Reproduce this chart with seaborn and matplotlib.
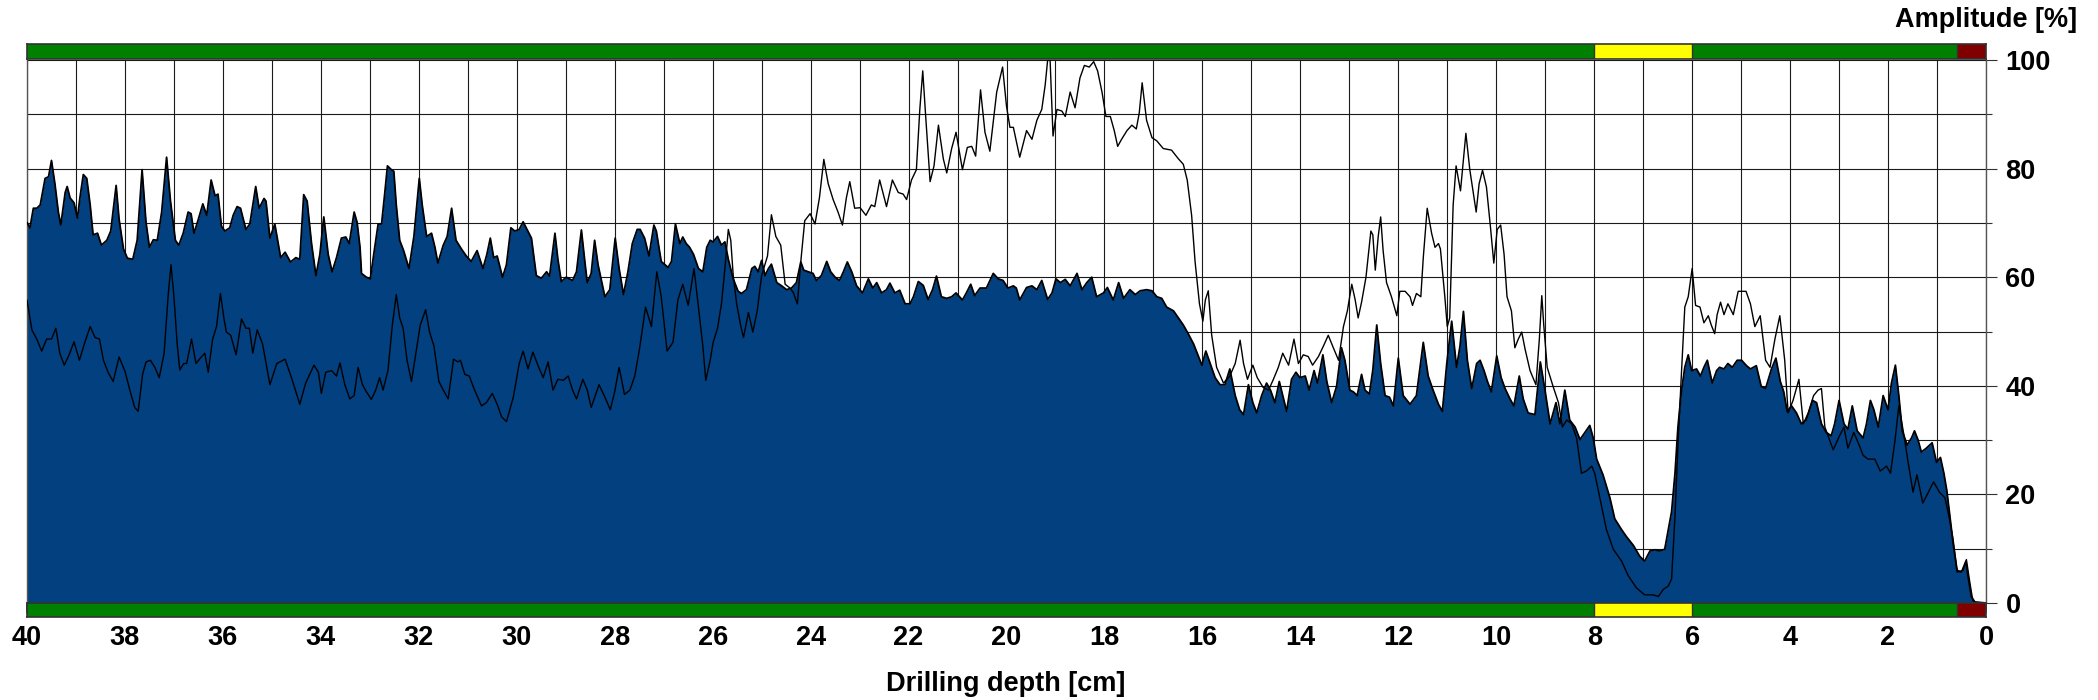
import matplotlib
matplotlib.use("Agg")
import matplotlib.pyplot as plt
import pandas as pd
import seaborn as sns

# Envelope amplitude (filled area) along the drilling depth
depth_a = [40.00, 39.94, 39.87, 39.80, 39.73, 39.63, 39.56, 39.50, 39.43, 39.36, 39.31, 39.22, 39.18, 39.12,
           39.04, 38.97, 38.92, 38.85, 38.78, 38.71, 38.65, 38.56, 38.48, 38.37, 38.29, 38.18, 38.12, 38.03,
           37.95, 37.84, 37.75, 37.65, 37.57, 37.50, 37.42, 37.34, 37.25, 37.15, 37.07, 36.97, 36.90, 36.81,
           36.71, 36.65, 36.59, 36.50, 36.41, 36.33, 36.24, 36.16, 36.10, 36.03, 35.96, 35.86, 35.79, 35.71,
           35.64, 35.53, 35.45, 35.33, 35.26, 35.16, 35.12, 35.04, 34.94, 34.82, 34.73, 34.62, 34.51, 34.43,
           34.35, 34.28, 34.19, 34.10, 34.02, 33.94, 33.85, 33.77, 33.68, 33.58, 33.49, 33.42, 33.32, 33.26,
           33.20, 33.17, 33.07, 32.99, 32.92, 32.83, 32.76, 32.69, 32.64, 32.56, 32.51, 32.46, 32.39, 32.31,
           32.20, 32.10, 31.99, 31.93, 31.84, 31.74, 31.67, 31.61, 31.50, 31.42, 31.33, 31.24, 31.13, 31.03,
           30.93, 30.81, 30.69, 30.61, 30.54, 30.47, 30.40, 30.29, 30.21, 30.12, 30.04, 29.95, 29.87, 29.79,
           29.70, 29.60, 29.50, 29.39, 29.33, 29.22, 29.16, 29.09, 28.99, 28.86, 28.78, 28.68, 28.61, 28.56,
           28.48, 28.41, 28.34, 28.20, 28.10, 27.99, 27.91, 27.82, 27.73, 27.64, 27.54, 27.48, 27.39, 27.30,
           27.20, 27.15, 27.05, 26.91, 26.84, 26.76, 26.67, 26.61, 26.54, 26.47, 26.39, 26.29, 26.20, 26.12,
           26.05, 25.99, 25.90, 25.82, 25.75, 25.68, 25.58, 25.48, 25.41, 25.31, 25.20, 25.14, 25.07, 25.00,
           24.93, 24.86, 24.80, 24.69, 24.59, 24.49, 24.39, 24.29, 24.20, 24.14, 24.05, 23.95, 23.88, 23.78,
           23.67, 23.59, 23.50, 23.41, 23.33, 23.25, 23.16, 23.06, 22.94, 22.82, 22.73, 22.65, 22.55, 22.45,
           22.38, 22.28, 22.18, 22.07, 21.97, 21.90, 21.80, 21.70, 21.60, 21.51, 21.43, 21.33, 21.22, 21.12,
           21.03, 20.90, 20.82, 20.73, 20.65, 20.54, 20.41, 20.27, 20.17, 20.07, 19.97, 19.86, 19.80, 19.73,
           19.59, 19.48, 19.38, 19.28, 19.16, 19.07, 18.99, 18.90, 18.80, 18.70, 18.56, 18.46, 18.36, 18.26,
           18.16, 18.02, 17.94, 17.82, 17.71, 17.61, 17.48, 17.37, 17.27, 17.14, 17.03, 16.93, 16.83, 16.73,
           16.59, 16.49, 16.39, 16.29, 16.18, 16.08, 16.01, 15.93, 15.84, 15.74, 15.64, 15.54, 15.44, 15.33,
           15.24, 15.16, 15.06, 14.97, 14.89, 14.79, 14.69, 14.61, 14.52, 14.43, 14.36, 14.28, 14.18, 14.09,
           14.01, 13.90, 13.82, 13.72, 13.65, 13.54, 13.46, 13.36, 13.26, 13.16, 13.09, 12.99, 12.92, 12.84,
           12.75, 12.68, 12.59, 12.52, 12.44, 12.36, 12.27, 12.18, 12.10, 12.00, 11.90, 11.76, 11.63, 11.49,
           11.39, 11.29, 11.18, 11.10, 11.01, 10.91, 10.81, 10.74, 10.67, 10.59, 10.50, 10.40, 10.33, 10.25,
           10.18, 10.10, 9.99, 9.90, 9.82, 9.72, 9.64, 9.53, 9.45, 9.35, 9.21, 9.10, 9.01, 8.90,
           8.78, 8.70, 8.60, 8.50, 8.39, 8.29, 8.19, 8.09, 8.02, 7.95, 7.82, 7.68, 7.58, 7.44,
           7.34, 7.20, 7.07, 6.97, 6.86, 6.76, 6.66, 6.56, 6.42, 6.35, 6.29, 6.22, 6.15, 6.08,
           6.01, 5.91, 5.83, 5.76, 5.69, 5.59, 5.50, 5.44, 5.35, 5.27, 5.18, 5.08, 4.99, 4.89,
           4.81, 4.69, 4.59, 4.50, 4.38, 4.29, 4.20, 4.13, 4.06, 3.97, 3.87, 3.77, 3.67, 3.54,
           3.46, 3.36, 3.26, 3.16, 3.09, 3.00, 2.90, 2.82, 2.73, 2.63, 2.51, 2.44, 2.36, 2.29,
           2.20, 2.10, 2.00, 1.93, 1.85, 1.78, 1.71, 1.61, 1.52, 1.46, 1.39, 1.32, 1.22, 1.10,
           1.01, 0.93, 0.86, 0.80, 0.73, 0.67, 0.59, 0.50, 0.41, 0.37, 0.30, 0.23, 0.00]
amp_a = [70.1, 69.1, 72.7, 72.7, 73.3, 78.2, 78.5, 81.5, 77.2, 72.0, 69.6, 75.6, 76.7, 74.6,
         73.7, 70.9, 74.6, 78.9, 78.2, 73.3, 67.8, 68.1, 65.9, 66.8, 68.5, 76.9, 70.7, 65.2,
         63.5, 63.3, 66.8, 79.8, 70.1, 65.5, 66.9, 66.8, 72.0, 82.1, 74.0, 66.8, 65.9, 68.1,
         72.0, 71.7, 68.1, 70.7, 73.5, 71.4, 77.9, 75.0, 75.3, 69.4, 68.5, 69.1, 71.4, 73.0,
         72.7, 68.8, 69.8, 76.7, 72.7, 74.5, 74.0, 67.2, 69.8, 63.6, 64.6, 62.8, 63.6, 63.3,
         75.2, 74.0, 66.2, 60.3, 64.2, 71.1, 64.2, 61.0, 63.6, 67.2, 67.4, 66.2, 72.0, 70.1,
         65.5, 60.7, 60.0, 59.7, 64.2, 69.8, 69.8, 75.9, 80.5, 79.8, 79.5, 73.3, 66.8, 64.9,
         61.6, 67.5, 78.2, 73.3, 67.5, 68.1, 65.5, 62.6, 65.9, 67.5, 72.7, 66.8, 65.2, 63.9,
         62.9, 64.9, 61.6, 64.2, 67.2, 63.6, 63.9, 60.0, 62.3, 69.1, 68.5, 68.8, 70.2, 68.8,
         67.2, 60.3, 59.8, 61.0, 60.2, 68.1, 63.3, 59.2, 60.0, 59.4, 61.0, 68.7, 62.9, 59.0,
         60.7, 66.8, 62.3, 56.4, 57.7, 67.2, 61.6, 56.8, 61.0, 66.2, 68.8, 68.8, 67.2, 63.9,
         69.6, 68.5, 62.9, 61.8, 62.9, 69.8, 66.2, 67.4, 66.2, 65.5, 64.2, 61.6, 61.0, 65.5,
         66.8, 66.5, 67.5, 65.9, 66.5, 63.3, 59.7, 57.4, 57.0, 57.7, 61.6, 62.0, 61.0, 63.1,
         60.3, 61.6, 62.4, 59.0, 58.4, 57.7, 58.0, 59.0, 62.8, 61.3, 61.0, 60.7, 59.4, 60.3,
         62.9, 61.0, 60.0, 59.4, 61.0, 62.8, 61.0, 58.4, 57.1, 59.7, 58.0, 59.0, 57.1, 57.7,
         58.9, 57.1, 57.6, 55.1, 55.1, 56.4, 59.2, 58.5, 55.9, 57.7, 60.2, 56.4, 56.1, 56.4,
         57.1, 55.8, 57.1, 58.7, 56.6, 58.0, 58.0, 60.7, 59.7, 59.4, 58.0, 58.4, 58.0, 55.8,
         58.1, 58.4, 57.7, 59.4, 55.9, 57.1, 59.7, 59.0, 59.6, 58.4, 60.7, 57.7, 59.0, 60.0,
         56.4, 57.1, 58.1, 55.8, 59.0, 56.1, 57.7, 56.8, 57.5, 57.7, 57.5, 56.4, 56.1, 54.5,
         53.8, 52.5, 51.2, 49.6, 47.7, 45.4, 43.8, 46.4, 44.1, 41.5, 40.2, 40.2, 43.1, 38.2,
         35.6, 34.7, 40.2, 36.9, 35.0, 38.2, 40.5, 39.2, 36.9, 40.8, 38.2, 35.3, 41.2, 42.5,
         41.5, 41.8, 39.2, 42.8, 40.5, 45.7, 40.8, 36.9, 39.9, 47.0, 44.7, 39.2, 38.9, 38.2,
         42.1, 39.2, 38.5, 42.9, 51.2, 44.1, 38.2, 37.9, 36.3, 45.1, 38.2, 36.6, 38.2, 48.0,
         41.8, 39.2, 36.6, 35.3, 44.1, 51.9, 43.4, 47.3, 53.7, 44.7, 39.5, 44.1, 44.7, 42.8,
         40.8, 38.9, 45.5, 41.5, 39.5, 37.6, 36.3, 41.8, 37.6, 35.0, 34.7, 44.4, 39.5, 33.0,
         36.9, 33.0, 39.2, 33.7, 32.4, 30.1, 31.4, 32.7, 30.4, 26.5, 23.6, 19.4, 15.5, 13.5,
         12.2, 10.6, 8.6, 7.7, 9.6, 9.8, 9.6, 9.9, 16.8, 23.9, 32.4, 38.9, 43.4, 45.7,
         42.8, 43.1, 41.8, 43.4, 44.7, 40.5, 42.8, 43.4, 43.1, 44.1, 43.4, 44.7, 44.7, 43.7,
         43.1, 43.7, 39.9, 39.5, 43.1, 45.1, 40.8, 38.9, 35.3, 36.3, 35.0, 33.0, 33.7, 37.3,
         36.9, 33.0, 31.4, 30.8, 33.0, 37.3, 33.0, 32.0, 36.3, 31.7, 30.4, 33.0, 37.3, 35.6,
         32.4, 38.2, 35.6, 40.5, 43.8, 38.2, 31.7, 29.1, 30.4, 31.7, 30.1, 27.8, 28.5, 29.5,
         25.9, 26.8, 23.9, 20.7, 15.5, 10.9, 6.0, 5.7, 7.7, 5.1, 1.2, 0.2, 0.0]

# Reference amplitude (thin line)
depth_b = [40.00, 39.90, 39.80, 39.70, 39.60, 39.50, 39.41, 39.33, 39.24, 39.14, 39.04, 38.93, 38.82, 38.71,
           38.61, 38.52, 38.44, 38.34, 38.24, 38.12, 38.00, 37.90, 37.80, 37.73, 37.64, 37.57, 37.48, 37.39,
           37.30, 37.20, 37.12, 37.06, 37.00, 36.93, 36.88, 36.80, 36.74, 36.64, 36.55, 36.46, 36.37, 36.30,
           36.21, 36.13, 36.05, 35.98, 35.93, 35.84, 35.73, 35.62, 35.53, 35.46, 35.39, 35.30, 35.19, 35.04,
           34.90, 34.73, 34.60, 34.43, 34.31, 34.14, 34.05, 33.99, 33.90, 33.78, 33.68, 33.61, 33.51, 33.41,
           33.32, 33.24, 33.15, 33.07, 32.97, 32.88, 32.80, 32.73, 32.63, 32.54, 32.46, 32.39, 32.32, 32.24,
           32.15, 32.06, 31.97, 31.86, 31.78, 31.69, 31.59, 31.50, 31.40, 31.29, 31.20, 31.15, 31.06, 30.97,
           30.86, 30.72, 30.62, 30.50, 30.40, 30.31, 30.21, 30.07, 29.95, 29.87, 29.77, 29.67, 29.56, 29.46,
           29.36, 29.26, 29.16, 29.05, 28.95, 28.86, 28.78, 28.65, 28.56, 28.48, 28.32, 28.20, 28.09, 28.00,
           27.91, 27.80, 27.69, 27.59, 27.49, 27.37, 27.25, 27.14, 27.05, 26.93, 26.81, 26.71, 26.61, 26.50,
           26.38, 26.29, 26.20, 26.14, 26.05, 25.99, 25.90, 25.82, 25.75, 25.68, 25.63, 25.58, 25.51, 25.43,
           25.37, 25.27, 25.18, 25.09, 25.00, 24.88, 24.80, 24.71, 24.61, 24.52, 24.42, 24.35, 24.27, 24.20,
           24.12, 24.01, 23.91, 23.82, 23.73, 23.64, 23.54, 23.44, 23.35, 23.27, 23.20, 23.10, 22.99, 22.87,
           22.76, 22.69, 22.59, 22.45, 22.33, 22.21, 22.11, 22.04, 21.94, 21.84, 21.77, 21.71, 21.65, 21.56,
           21.48, 21.39, 21.29, 21.22, 21.12, 21.03, 20.90, 20.80, 20.71, 20.63, 20.53, 20.44, 20.34, 20.20,
           20.08, 20.00, 19.93, 19.86, 19.73, 19.59, 19.48, 19.38, 19.28, 19.21, 19.16, 19.11, 19.05, 18.97,
           18.87, 18.80, 18.70, 18.60, 18.50, 18.41, 18.31, 18.22, 18.14, 18.05, 17.97, 17.88, 17.80, 17.73,
           17.65, 17.54, 17.44, 17.35, 17.29, 17.23, 17.14, 17.03, 16.93, 16.80, 16.63, 16.49, 16.39, 16.31,
           16.22, 16.15, 16.06, 15.99, 15.94, 15.88, 15.81, 15.71, 15.57, 15.44, 15.33, 15.23, 15.16, 15.08,
           14.97, 14.88, 14.76, 14.65, 14.55, 14.45, 14.36, 14.24, 14.13, 14.04, 13.94, 13.84, 13.75, 13.63,
           13.53, 13.43, 13.34, 13.22, 13.12, 13.04, 12.95, 12.88, 12.82, 12.75, 12.66, 12.56, 12.52, 12.47,
           12.41, 12.36, 12.31, 12.24, 12.14, 12.03, 11.97, 11.86, 11.76, 11.71, 11.63, 11.54, 11.49, 11.41,
           11.32, 11.25, 11.18, 11.14, 11.05, 11.00, 10.95, 10.88, 10.82, 10.73, 10.62, 10.54, 10.41, 10.35,
           10.28, 10.20, 10.12, 10.05, 9.98, 9.91, 9.84, 9.78, 9.69, 9.62, 9.55, 9.48, 9.41, 9.31,
           9.19, 9.12, 9.07, 9.03, 8.96, 8.84, 8.73, 8.65, 8.56, 8.46, 8.36, 8.26, 8.16, 8.05,
           7.99, 7.88, 7.75, 7.61, 7.44, 7.31, 7.14, 6.97, 6.80, 6.69, 6.59, 6.49, 6.42, 6.35,
           6.29, 6.22, 6.15, 6.08, 6.00, 5.93, 5.84, 5.76, 5.67, 5.61, 5.54, 5.49, 5.42, 5.35,
           5.27, 5.16, 5.06, 4.90, 4.81, 4.72, 4.61, 4.50, 4.41, 4.31, 4.21, 4.11, 4.04, 3.94,
           3.82, 3.73, 3.63, 3.52, 3.43, 3.36, 3.29, 3.12, 2.99, 2.90, 2.82, 2.70, 2.59, 2.51,
           2.41, 2.27, 2.16, 2.03, 1.95, 1.86, 1.78, 1.69, 1.59, 1.49, 1.41, 1.29, 1.16, 1.07,
           0.95, 0.84, 0.76, 0.67, 0.59, 0.47, 0.40, 0.33, 0.27, 0.20, 0.00]
amp_b = [55.8, 50.3, 48.6, 46.4, 48.6, 48.6, 50.6, 46.0, 43.8, 45.7, 48.1, 44.7, 48.0, 50.9,
         48.9, 48.6, 44.7, 42.4, 40.8, 45.3, 42.7, 39.2, 36.0, 35.3, 42.1, 44.4, 44.7, 43.4,
         41.5, 46.0, 56.4, 62.3, 56.4, 47.3, 42.9, 44.1, 44.1, 48.6, 44.1, 45.1, 46.0, 42.5,
         48.6, 50.9, 57.0, 52.5, 49.9, 49.3, 45.7, 52.3, 50.6, 50.6, 46.0, 50.3, 47.7, 40.2,
         44.1, 44.9, 41.5, 36.6, 40.5, 43.8, 42.5, 38.6, 42.5, 42.8, 41.8, 44.2, 40.2, 37.6,
         38.2, 43.4, 40.2, 38.9, 37.5, 39.2, 41.5, 39.2, 42.8, 51.2, 56.8, 52.5, 50.6, 44.7,
         40.8, 46.0, 51.2, 54.0, 49.9, 47.3, 40.8, 39.2, 37.6, 44.9, 44.4, 44.7, 42.1, 41.8,
         39.2, 36.3, 36.9, 38.6, 36.6, 34.3, 33.4, 37.9, 44.1, 46.4, 43.1, 46.2, 43.6, 41.5,
         44.4, 39.2, 41.2, 41.0, 41.8, 39.2, 37.6, 41.2, 39.2, 36.0, 40.2, 37.9, 35.6, 38.9,
         43.4, 38.4, 39.2, 41.8, 47.0, 54.5, 50.9, 61.0, 56.4, 46.4, 48.0, 55.8, 58.7, 54.8,
         61.6, 54.5, 47.3, 41.0, 44.7, 48.0, 50.6, 55.1, 61.6, 68.8, 66.8, 60.3, 55.1, 51.2,
         48.9, 53.5, 49.9, 53.8, 60.3, 63.9, 71.5, 67.5, 65.9, 58.7, 58.0, 57.1, 55.1, 62.9,
         70.4, 71.7, 69.8, 74.6, 81.7, 77.2, 74.3, 72.0, 69.6, 74.6, 77.6, 72.7, 72.8, 71.4,
         73.3, 73.0, 77.9, 73.0, 77.9, 75.6, 75.3, 74.3, 77.9, 79.8, 90.9, 98.0, 89.6, 77.6,
         80.5, 88.0, 81.8, 79.2, 83.7, 86.7, 79.8, 83.9, 84.1, 82.3, 94.5, 86.7, 83.2, 94.1,
         98.7, 91.5, 87.6, 87.6, 82.1, 87.0, 85.4, 88.9, 90.9, 95.4, 100.0, 100.0, 86.0, 90.9,
         90.6, 89.6, 94.1, 91.2, 96.7, 99.0, 98.7, 99.7, 98.0, 94.1, 89.6, 89.6, 87.0, 84.1,
         85.4, 87.0, 88.0, 87.3, 90.2, 95.8, 88.9, 85.7, 85.1, 83.7, 83.4, 81.8, 80.8, 77.9,
         71.4, 62.9, 55.1, 51.9, 55.8, 57.5, 49.3, 43.4, 40.5, 41.8, 44.1, 48.4, 44.1, 41.2,
         43.8, 41.5, 39.7, 39.2, 41.2, 43.4, 46.0, 43.8, 48.6, 44.1, 45.7, 45.4, 43.8, 45.4,
         47.3, 49.3, 47.3, 44.7, 50.9, 53.8, 58.7, 55.8, 52.5, 55.4, 60.0, 68.5, 67.8, 61.3,
         67.5, 71.1, 64.9, 59.0, 56.4, 52.9, 57.4, 57.4, 56.4, 54.8, 57.0, 56.4, 63.6, 72.7,
         68.1, 65.5, 66.2, 65.2, 56.4, 50.9, 52.5, 73.3, 80.5, 75.9, 86.5, 79.8, 72.0, 77.2,
         79.7, 76.6, 69.4, 62.6, 68.8, 69.6, 64.2, 56.4, 53.8, 47.0, 48.6, 49.9, 46.7, 42.8,
         40.2, 48.6, 56.6, 51.2, 43.4, 39.9, 36.9, 32.4, 33.7, 33.0, 30.4, 23.9, 24.3, 25.2,
         23.9, 19.1, 13.5, 9.9, 7.7, 5.1, 2.8, 1.5, 1.5, 1.2, 2.5, 3.1, 4.4, 16.1,
         29.1, 42.1, 54.5, 56.4, 61.6, 54.8, 54.5, 51.6, 52.9, 51.2, 49.6, 53.1, 55.4, 53.1,
         55.1, 53.1, 57.4, 57.4, 55.1, 50.9, 52.9, 44.7, 43.4, 48.6, 52.9, 44.7, 35.0, 37.3,
         41.2, 33.0, 35.0, 38.2, 39.2, 39.5, 32.4, 28.2, 30.8, 32.4, 28.5, 31.4, 29.1, 27.2,
         26.5, 26.5, 24.3, 25.2, 23.9, 29.8, 36.3, 31.7, 25.9, 20.4, 23.6, 18.4, 20.7, 22.3,
         20.4, 19.4, 16.1, 11.6, 5.7, 6.0, 8.0, 3.8, 0.5, 0.0, 0.0]

# Status zones shown in the bars above and below the plot
zone_start = [40.0, 8.0, 6.0, 0.6]
zone_end = [8.0, 6.0, 0.6, 0.0]
zone_color = ["#008000", "#ffff00", "#008000", "#800000"]

x_major = list(range(0, 41, 2))
x_minor = list(range(1, 40, 2))
x_grid = list(range(0, 41))
y_major = [0, 20, 40, 60, 80, 100]
y_minor = [10, 30, 50, 70, 90]

sns.set_theme(style="white")
plt.rcParams["font.family"] = ["Liberation Sans", "DejaVu Sans"]
plt.rcParams["font.weight"] = "bold"
plt.rcParams["text.color"] = "black"
plt.rcParams["xtick.color"] = "black"
plt.rcParams["ytick.color"] = "black"
plt.rcParams["xtick.labelcolor"] = "black"
plt.rcParams["ytick.labelcolor"] = "black"

W, H = 2098, 700
fig = plt.figure(figsize=(W / 100, H / 100), dpi=100)
x0, x1 = 27 / W, 1986 / W
ax = fig.add_axes([x0, (H - 603) / H, x1 - x0, 543 / H])

df_a = pd.DataFrame({"depth": depth_a, "amp": amp_a})
df_b = pd.DataFrame({"depth": depth_b, "amp": amp_b})

fill_color = "#02407f"
ax.fill_between(df_a["depth"], df_a["amp"], 0, color=fill_color, lw=0, zorder=2)
sns.lineplot(data=df_a, x="depth", y="amp", ax=ax, color="black", lw=1.3,
             estimator=None, sort=False, zorder=3)
sns.lineplot(data=df_b, x="depth", y="amp", ax=ax, color="black", lw=1.0,
             estimator=None, sort=False, zorder=4)

ax.set_xlim(40, 0)
ax.set_ylim(0, 100)
ax.set_xlabel("")
ax.set_ylabel("")

# grid lines sit behind the filled envelope
ax.set_axisbelow(True)
ax.set_xticks(x_grid)
ax.set_yticks(y_major)
ax.set_yticks(y_minor, minor=True)
ax.grid(True, which="both", color="#1a1a1a", lw=0.8)
ax.tick_params(axis="x", bottom=False, top=False, labelbottom=False)
ax.yaxis.set_ticks_position("right")
ax.tick_params(axis="y", which="major", right=True, left=False, labelright=True,
               labelleft=False, length=8, width=0.8, color="#333333", pad=6,
               labelsize=19.5, labelcolor="black")
ax.tick_params(axis="y", which="minor", right=True, left=False, length=4.3,
               width=0.8, color="#333333")
for lab in ax.get_yticklabels():
    lab.set_fontweight("bold")
for side in ("top", "bottom"):
    ax.spines[side].set_visible(False)
for side in ("left", "right"):
    ax.spines[side].set_color("#555555")
    ax.spines[side].set_linewidth(1.0)


def zone_bar(rect):
    bar = fig.add_axes(rect)
    bar.set_xlim(40, 0)
    bar.set_ylim(0, 1)
    for s, e, c in zip(zone_start, zone_end, zone_color):
        bar.axvspan(e, s, color=c, lw=0)
    for s in zone_start[1:]:
        bar.axvline(s, color="#333333", lw=1.0)
    bar.set_yticks([])
    for sp in bar.spines.values():
        sp.set_visible(True)
        sp.set_color("#333333")
        sp.set_linewidth(1.2)
    return bar


top_bar = zone_bar([x0, (H - 59) / H, x1 - x0, 15 / H])
top_bar.set_xticks([])

bot_bar = zone_bar([x0, (H - 617) / H, x1 - x0, 14 / H])
bot_bar.set_xticks(x_major)
bot_bar.set_xticks(x_minor, minor=True)
bot_bar.set_xticklabels([str(v) for v in x_major], fontsize=19.5, fontweight="bold",
                        color="black")
bot_bar.tick_params(axis="x", which="both", direction="in", top=True, bottom=False,
                    labelbottom=True, color="#111111", width=1.1)
bot_bar.tick_params(axis="x", which="major", length=7.2, pad=6)
bot_bar.tick_params(axis="x", which="minor", length=3.6)

fig.text(1006 / W, 1 - 684 / H, "Drilling depth [cm]", ha="center", va="center",
         fontsize=19.5, fontweight="bold", color="black")
fig.text(2077 / W, 1 - 20 / H, "Amplitude [%]", ha="right", va="center",
         fontsize=19.5, fontweight="bold", color="black")

fig.savefig("out.png", dpi=100)
